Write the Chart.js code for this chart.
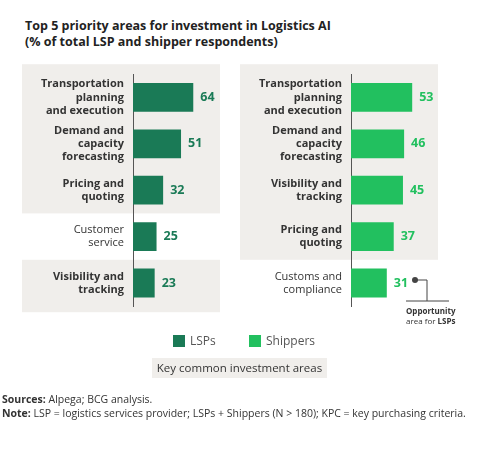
<!DOCTYPE html>
<html><head><meta charset="utf-8">
<script src="https://cdn.jsdelivr.net/npm/chart.js@4"></script>
<style>
body{margin:0;width:482px;height:463px;background:#fff;font-family:"Open Sans",sans-serif;color:#333;position:relative;overflow:hidden}
.abs{position:absolute}
#t{left:25px;top:18px;font-size:12.5px;font-weight:bold;line-height:16px;color:#222}
.sw{width:12px;height:12px;top:335px}
.lg{top:332px;font-size:12px;color:#555}
#key{left:152px;top:358px;width:175px;height:20px;background:#f0eeeb;font-size:11.5px;text-align:center;line-height:20px;color:#333}
#src{left:2px;top:392px;font-size:10.5px;line-height:14px;color:#333}
</style></head><body>
<div id="t" class="abs">Top 5 priority areas for investment in Logistics AI<br>(% of total LSP and shipper respondents)</div>
<div class="abs" style="left:20px;top:52px;width:210px;height:283px"><canvas id="c1"></canvas></div>
<div class="abs" style="left:238px;top:52px;width:210px;height:283px"><canvas id="c2"></canvas></div>
<svg class="abs" style="left:0;top:0" width="482" height="463">
<circle cx="415" cy="280" r="3" fill="#444"/>
<polyline points="415,280 427,280 427,301" fill="none" stroke="#444" stroke-width="1"/>
<line x1="406" y1="301" x2="449" y2="301" stroke="#444" stroke-width="1"/>
<text x="406" y="314" font-size="8" font-weight="bold" fill="#333" font-family="Open Sans">Opportunity</text>
<text x="406" y="324" font-size="8" fill="#333" font-family="Open Sans">area for <tspan font-weight="bold">LSPs</tspan></text>
</svg>
<div class="abs sw" style="left:173px;background:#1a7a56"></div>
<div class="abs lg" style="left:190px">LSPs</div>
<div class="abs sw" style="left:249px;background:#22c05f"></div>
<div class="abs lg" style="left:266px">Shippers</div>
<div id="key" class="abs">Key common investment areas</div>
<div id="src" class="abs"><b>Sources:</b> Alpega; BCG analysis.<br><b>Note:</b> LSP = logistics services provider; LSPs + Shippers (N &gt; 180); KPC = key purchasing criteria.</div>
<script>
var lspLabels = [["Transportation","planning","and execution"],["Demand and","capacity","forecasting"],["Pricing and","quoting"],["Customer","service"],["Visibility and","tracking"]];
var lspValues = [64, 51, 32, 25, 23];
var lspKey = [true, true, true, false, true];
var shipLabels = [["Transportation","planning","and execution"],["Demand and","capacity","forecasting"],["Visibility and","tracking"],["Pricing and","quoting"],["Customs and","compliance"]];
var shipValues = [53, 46, 45, 37, 31];
var shipKey = [true, true, true, true, false];

var bgPlugin = {
  id: 'bg',
  beforeDraw: function(chart, args, opts) {
    var c = chart.ctx, y = chart.scales.y, key = opts.key;
    var step = y.getPixelForValue(1) - y.getPixelForValue(0);
    c.save();
    c.fillStyle = '#f0eeeb';
    for (var i = 0; i < key.length; i++) {
      if (!key[i]) continue;
      var j = i;
      while (j + 1 < key.length && key[j + 1]) j++;
      var top = y.getPixelForValue(i) - step / 2 - (i === 0 ? 10 : 0);
      var bot = y.getPixelForValue(j) + step / 2 + (j === key.length - 1 ? 6 : 0);
      c.fillRect(2, top, 198, bot - top);
      i = j;
    }
    c.restore();
  },
  afterDatasetsDraw: function(chart, args, opts) {
    var c = chart.ctx, meta = chart.getDatasetMeta(0);
    c.save();
    c.font = 'bold 12.5px "Open Sans"';
    c.fillStyle = opts.labelColor;
    c.textBaseline = 'middle';
    meta.data.forEach(function(bar, i) {
      c.fillText(chart.data.datasets[0].data[i], bar.x + 7, bar.y);
    });
    c.restore();
  }
};

function makeChart(id, labels, values, key, color, labelColor, max) {
  new Chart(document.getElementById(id), {
    type: 'bar',
    data: { labels: labels, datasets: [{ data: values, backgroundColor: color, barPercentage: 0.62, categoryPercentage: 1 }] },
    options: {
      indexAxis: 'y', responsive: true, maintainAspectRatio: false, animation: false,
      layout: { padding: 0 },
      plugins: { legend: { display: false }, tooltip: { enabled: false }, bg: { key: key, labelColor: labelColor } },
      scales: {
        x: { display: false, min: 0, max: max },
        y: {
          grid: { display: false, drawTicks: false },
          border: { color: '#555', width: 1 },
          afterFit: function(s) { s.width = 113; },
          ticks: {
            padding: 9, color: '#333',
            font: function(ctx) { return { family: 'Open Sans', size: 11, weight: key[ctx.index] ? 'bold' : 'normal', lineHeight: 1.2 }; }
          }
        }
      }
    },
    plugins: [bgPlugin]
  });
}
makeChart('c1', lspLabels, lspValues, lspKey, '#1a7a56', '#1a7a56', 103);
makeChart('c2', shipLabels, shipValues, shipKey, '#22c05f', '#22c05f', 84);
</script>
</body></html>
